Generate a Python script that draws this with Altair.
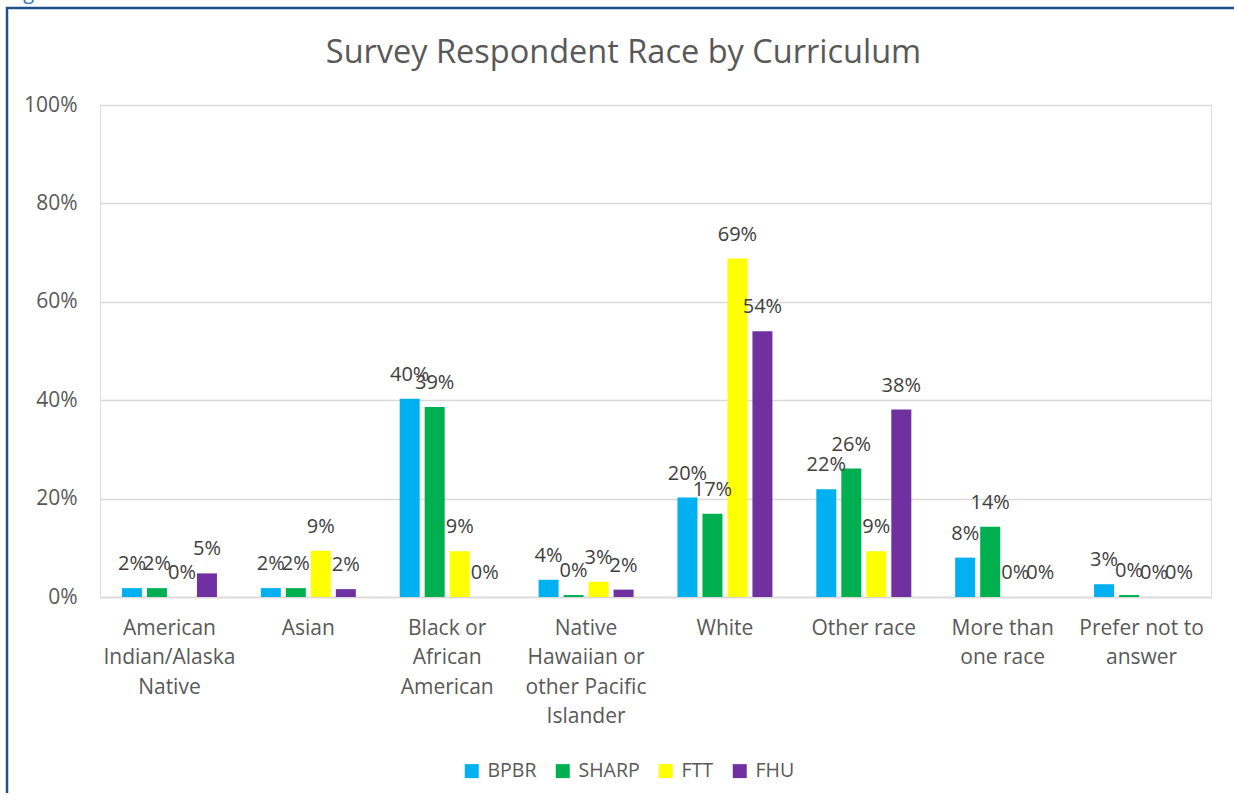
import json
import altair as alt
import pandas as pd

categories = [
    "American Indian/Alaska Native",
    "Asian",
    "Black or African American",
    "Native Hawaiian or other Pacific Islander",
    "White",
    "Other race",
    "More than one race",
    "Prefer not to answer",
]
category_lines = [
    ["American", "Indian/Alaska", "Native"],
    ["Asian"],
    ["Black or", "African", "American"],
    ["Native", "Hawaiian or", "other Pacific", "Islander"],
    ["White"],
    ["Other race"],
    ["More than", "one race"],
    ["Prefer not to", "answer"],
]
series = ["BPBR", "SHARP", "FTT", "FHU"]
colors = ["#00B0F0", "#00B050", "#FFFF00", "#7030A0"]

bpbr = [0.018, 0.018, 0.403, 0.035, 0.202, 0.219, 0.080, 0.026]
sharp = [0.018, 0.018, 0.386, 0.004, 0.169, 0.261, 0.143, 0.004]
ftt = [0.000, 0.094, 0.093, 0.031, 0.688, 0.093, 0.000, 0.000]
fhu = [0.048, 0.016, 0.000, 0.015, 0.540, 0.381, 0.000, 0.000]

title_text = "Survey Respondent Race by Curriculum"
caption_text = "Figure 6"

rows = []
for s, vals in zip(series, [bpbr, sharp, ftt, fhu]):
    for c, v in zip(categories, vals):
        rows.append({"category": c, "series": s, "value": v})
df = pd.DataFrame(rows)

label_map = json.dumps(dict(zip(categories, category_lines)))
FONT = "Open Sans"

base = alt.Chart(df).encode(
    x=alt.X(
        "category:N",
        sort=categories,
        title=None,
        scale=alt.Scale(paddingInner=0, paddingOuter=0),
        axis=alt.Axis(
            labelAngle=0,
            ticks=False,
            domain=True,
            domainColor="#D9D9D9",
            domainWidth=1.5,
            labelFont=FONT,
            labelFontSize=21,
            labelColor="#595959",
            labelPadding=20,
            labelLineHeight=29.5,
            labelExpr=label_map + "[datum.label]",
        ),
    ),
    xOffset=alt.XOffset(
        "series:N",
        sort=series,
        scale=alt.Scale(paddingInner=0.2, paddingOuter=0.8775),
    ),
    y=alt.Y(
        "value:Q",
        title=None,
        scale=alt.Scale(domain=[0, 1], nice=False),
        axis=alt.Axis(
            values=[0, 0.2, 0.4, 0.6, 0.8, 1.0],
            format=".0%",
            ticks=False,
            domain=False,
            grid=True,
            gridColor="#D9D9D9",
            gridWidth=1.5,
            labelFont=FONT,
            labelFontSize=21,
            labelColor="#595959",
            labelPadding=23,
        ),
    ),
)

bars = base.mark_bar(size=20).encode(
    color=alt.Color(
        "series:N",
        sort=series,
        scale=alt.Scale(domain=series, range=colors),
        legend=alt.Legend(
            title=None,
            orient="none",
            direction="horizontal",
            legendX=362,
            legendY=656,
            symbolType="square",
            symbolSize=196,
            symbolStrokeWidth=0,
            symbolOpacity=1,
            labelFont=FONT,
            labelFontSize=19.5,
            labelColor="#595959",
            labelOffset=6,
            columnPadding=16,
        ),
    )
)

labels = base.mark_text(
    font=FONT,
    fontSize=20,
    color="#404040",
    baseline="alphabetic",
    dy=-18,
).encode(text=alt.Text("value:Q", format=".0%"))

one = pd.DataFrame({"f": [0]})

frame_left = alt.Chart(one).mark_rule(stroke="#24508A", strokeWidth=2.5).encode(
    x=alt.value(-93),
    y=alt.value(-98),
    y2=alt.value(697),
)
frame_top = alt.Chart(one).mark_rule(stroke="#24508A", strokeWidth=2.5).encode(
    x=alt.value(-94),
    x2=alt.value(1134),
    y=alt.value(-97),
)

title = alt.Chart(one).mark_text(
    font=FONT,
    fontSize=32.5,
    color="#595959",
    align="center",
    baseline="alphabetic",
    text=title_text,
).encode(x=alt.value(523.5), y=alt.value(-42))

caption = alt.Chart(one).mark_text(
    font=FONT,
    fontSize=20,
    color="#2E75B6",
    align="left",
    baseline="alphabetic",
    text=caption_text,
).encode(x=alt.value(-92), y=alt.value(-106))

chart = alt.layer(frame_left, frame_top, caption, title, bars, labels).properties(
    width=1111,
    height=492,
    autosize=alt.AutoSizeParams(type="none"),
    padding={"left": 100, "top": 105, "right": 23, "bottom": 196},
).configure_view(stroke=None).configure(background="white")

chart.save("out.html", embed_options={"renderer": "svg", "actions": False})
